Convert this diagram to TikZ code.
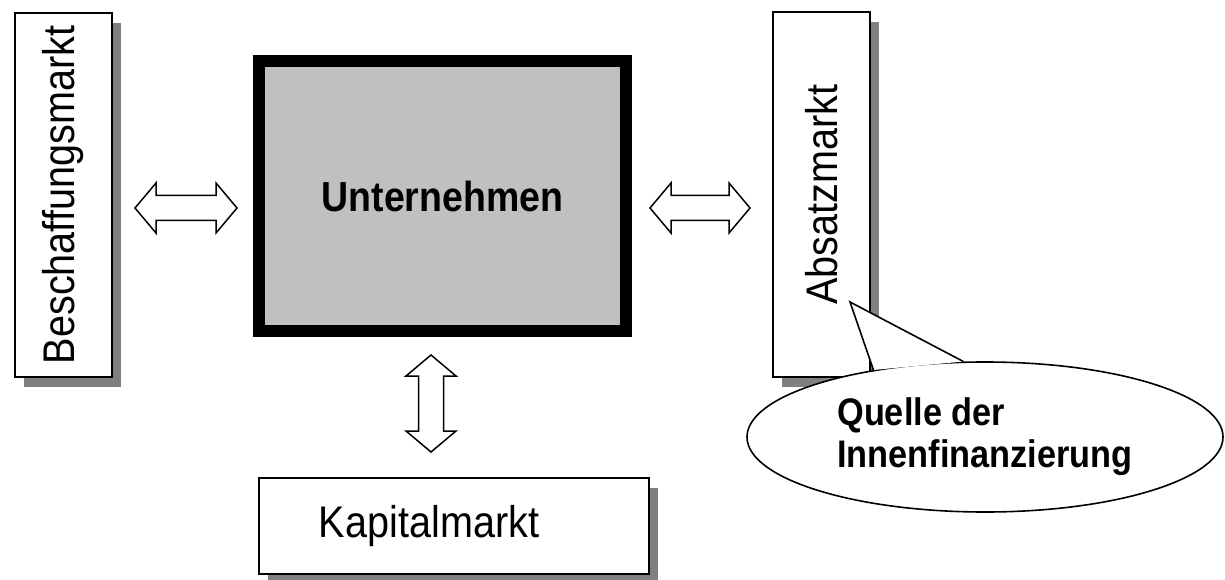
\documentclass[tikz,border=0pt]{standalone}
\usepackage{fontspec}
\usepackage{graphicx}
\setmainfont{Liberation Sans}
\usetikzlibrary{calc,shapes.geometric,shadows}
\definecolor{boxgray}{HTML}{C0C0C0}
\definecolor{shadowgray}{HTML}{808080}
% slightly taller letter shapes
\newcommand\tallt[1]{\scalebox{1}[1.12]{#1}}
\begin{document}
\begin{tikzpicture}[x=1pt,y=1pt,
  market/.style={draw=black, line width=1.8pt, fill=white, inner sep=0pt,
    font=\fontsize{39.6}{47}\selectfont,
    drop shadow={shadow xshift=9pt, shadow yshift=-10pt, fill=shadowgray, opacity=1}},
  core/.style={draw=black, line width=12pt, fill=boxgray, inner sep=0pt,
    font=\bfseries\fontsize{37.5}{45}\selectfont},
  bubble/.style={draw=black, line width=1.6pt, fill=white, ellipse, inner sep=0pt,
    align=left, font=\bfseries\fontsize{34.3}{42}\selectfont},
  % hollow double-headed block arrow between two points
  blockarrow/.style={draw=black, line width=1.5pt, fill=white, line join=miter,
    to path={
      -- ($(\tikztostart)!21pt!(\tikztotarget)!25pt!90:(\tikztotarget)$)
      -- ($(\tikztostart)!21pt!(\tikztotarget)!12.5pt!90:(\tikztotarget)$)
      -- ($(\tikztotarget)!21pt!(\tikztostart)!12.5pt!-90:(\tikztostart)$)
      -- ($(\tikztotarget)!21pt!(\tikztostart)!25pt!-90:(\tikztostart)$)
      -- (\tikztotarget)
      -- ($(\tikztotarget)!21pt!(\tikztostart)!25pt!90:(\tikztostart)$)
      -- ($(\tikztotarget)!21pt!(\tikztostart)!12.5pt!90:(\tikztostart)$)
      -- ($(\tikztostart)!21pt!(\tikztotarget)!12.5pt!-90:(\tikztotarget)$)
      -- ($(\tikztostart)!21pt!(\tikztotarget)!25pt!-90:(\tikztotarget)$)
      -- cycle}},
  pointer/.style={draw=black, line width=1.6pt, line join=miter}]

\useasboundingbox (0,0) rectangle (1225,579);

% markets and the firm
\node[market, minimum width=97pt, minimum height=364pt] (besch) at (63.5,384)
  {\rotatebox{90}{\tallt{Beschaffungsmarkt}}};
\node[core, minimum width=367pt, minimum height=270pt] (unt) at (442.5,383)
  {\tallt{Unternehmen}};
\node[market, minimum width=97pt, minimum height=365pt] (absatz) at (821.5,384.5)
  {\rotatebox{90}{\tallt{Absatzmarkt}}};
\node[market, minimum width=390pt, minimum height=96pt] (kapital) at (454,53)
  {\tallt{Kapitalmarkt}\hspace*{50pt}};

% exchange arrows
\coordinate (bL) at (135,371);
\coordinate (bR) at (237,371);
\coordinate (aL) at (650,371);
\coordinate (aR) at (750,371);
\coordinate (kT) at (431,224);
\coordinate (kB) at (431,127);
\draw[blockarrow] (bL) to (bR);
\draw[blockarrow] (aL) to (aR);
\draw[blockarrow] (kT) to (kB);

% speech bubble pointing at the sales market
\node[bubble, minimum width=476pt, minimum height=150pt] (quelle) at (985,142)
  {\tallt{Quelle der}\\\tallt{Innenfinanzierung}};
\coordinate (tip) at (850,277);
\fill[white] (quelle.149) -- (tip) -- (quelle.106) -- cycle;
\draw[pointer] (quelle.149) -- (tip) -- (quelle.106);
\end{tikzpicture}
\end{document}
